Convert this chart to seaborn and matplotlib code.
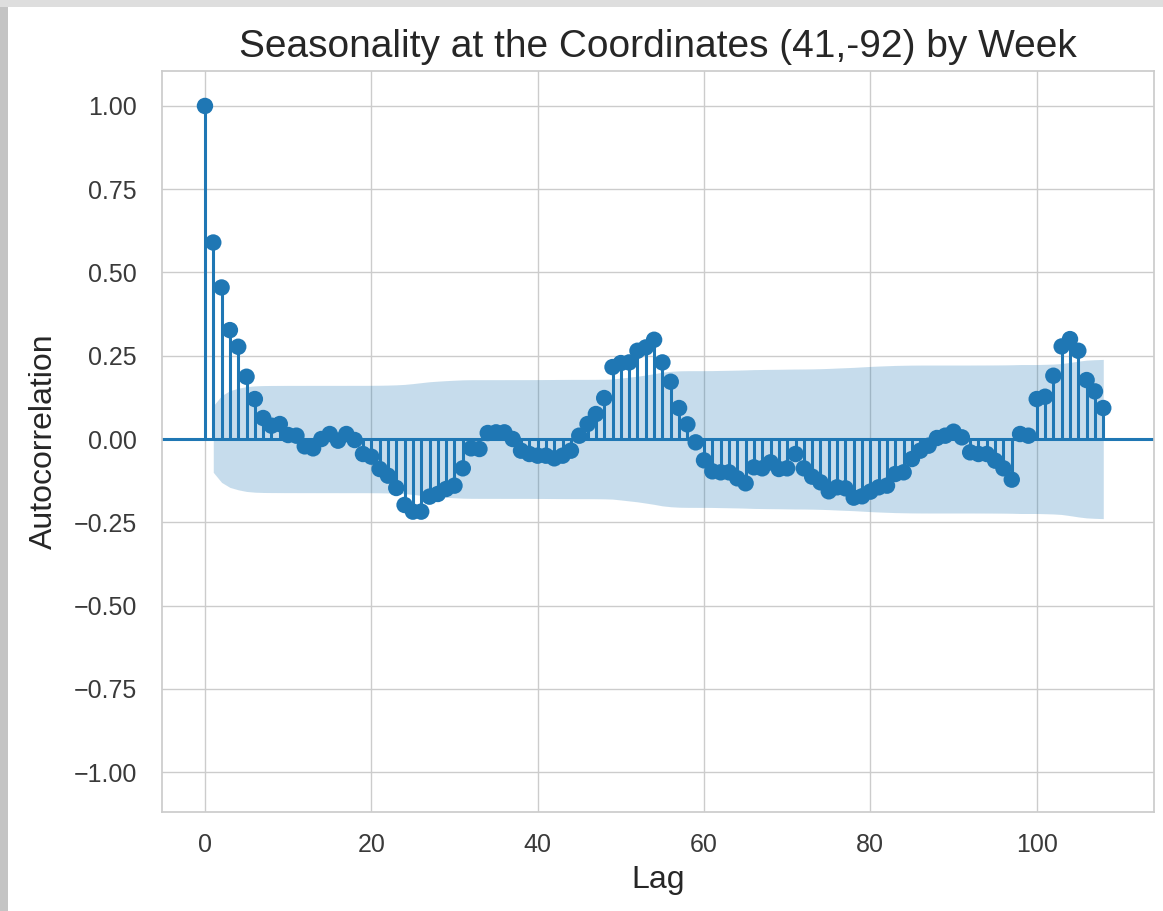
import numpy as np
import matplotlib
matplotlib.use("Agg")
import matplotlib.pyplot as plt
from matplotlib.patches import Rectangle
import seaborn as sns

# autocorrelation by lag (weeks)
lags = list(range(0, 109))
acf_values = [
    1.0, 0.59, 0.455, 0.327, 0.277, 0.187, 0.12, 0.063, 0.04, 0.045,
    0.012, 0.01, -0.022, -0.028, 0.0, 0.015, -0.005, 0.015, -0.003, -0.045,
    -0.053, -0.09, -0.11, -0.147, -0.198, -0.218, -0.218, -0.173, -0.165, -0.15,
    -0.14, -0.088, -0.028, -0.03, 0.018, 0.02, 0.02, 0.0, -0.035, -0.045,
    -0.05, -0.05, -0.058, -0.05, -0.035, 0.01, 0.045, 0.075, 0.123, 0.216,
    0.228, 0.23, 0.265, 0.275, 0.298, 0.23, 0.172, 0.093, 0.044, -0.01,
    -0.064, -0.097, -0.1, -0.1, -0.118, -0.133, -0.085, -0.088, -0.07, -0.09,
    -0.088, -0.045, -0.088, -0.113, -0.13, -0.157, -0.145, -0.148, -0.176, -0.172,
    -0.158, -0.145, -0.14, -0.105, -0.1, -0.06, -0.035, -0.02, 0.003, 0.01,
    0.022, 0.005, -0.04, -0.045, -0.045, -0.065, -0.088, -0.122, 0.015, 0.01,
    0.12, 0.127, 0.19, 0.278, 0.3, 0.265, 0.177, 0.143, 0.093,
]
n_obs = 384  # weeks in the series (band width at lag 1 ~ 1.96/sqrt(n))

title = "Seasonality at the Coordinates (41,-92) by Week"
yticks = [1.0, 0.75, 0.5, 0.25, 0.0, -0.25, -0.5, -0.75, -1.0]
xticks = [0, 20, 40, 60, 80, 100]

sns.set_theme(style="whitegrid")
plt.rcParams["font.family"] = ["Liberation Sans", "DejaVu Sans"]

acf = np.array(acf_values)
x = np.array(lags)
# Bartlett confidence band, as plot_acf draws it
var = np.ones(len(acf)) / n_obs
var[2:] *= 1 + 2 * np.cumsum(acf[1:-1] ** 2)
band = 1.96 * np.sqrt(var)

W, H = 1163, 911
fig = plt.figure(figsize=(W / 100, H / 100), dpi=100)
fig.patch.set_facecolor("white")
# grey screenshot edge on the left and top
fig.patches.append(Rectangle((0, 0), 8 / W, 1, transform=fig.transFigure,
                             facecolor="#c4c4c4", edgecolor="none"))
fig.patches.append(Rectangle((0, 1 - 7 / H), 1, 7 / H, transform=fig.transFigure,
                             facecolor="#dedede", edgecolor="none"))

ax = fig.add_axes([161.7 / W, 1 - 811.7 / H, (1154 - 161.7) / W, (811.7 - 71) / H])
c = "#1f77b4"
ax.axhline(0, color=c, lw=2.2, zorder=2)
ax.vlines(x, 0, acf, color=c, lw=2.2, zorder=3)
sns.scatterplot(x=x, y=acf, ax=ax, color=c, s=140, edgecolor="none", zorder=4, legend=False)
ax.fill_between(x[1:], -band[1:], band[1:], color=c, alpha=0.25, lw=0, zorder=1)

ax.set_xlim(-5.2, 114.1)
ax.set_ylim(-1.119, 1.105)
ax.set_xticks(xticks)
ax.set_yticks(yticks)
ax.tick_params(axis="both", labelsize=18, colors="#3a3a3a")
ax.tick_params(axis="x", pad=9)
ax.tick_params(axis="y", pad=12)
ax.set_xlabel("Lag", fontsize=23, color="#262626", labelpad=6)
ax.set_ylabel("Autocorrelation", fontsize=23, color="#262626", labelpad=10)
ax.set_title(title, fontsize=28, color="#262626", pad=10)
for s in ax.spines.values():
    s.set_color("#cccccc")

fig.savefig("out.png", dpi=100, facecolor="white")
